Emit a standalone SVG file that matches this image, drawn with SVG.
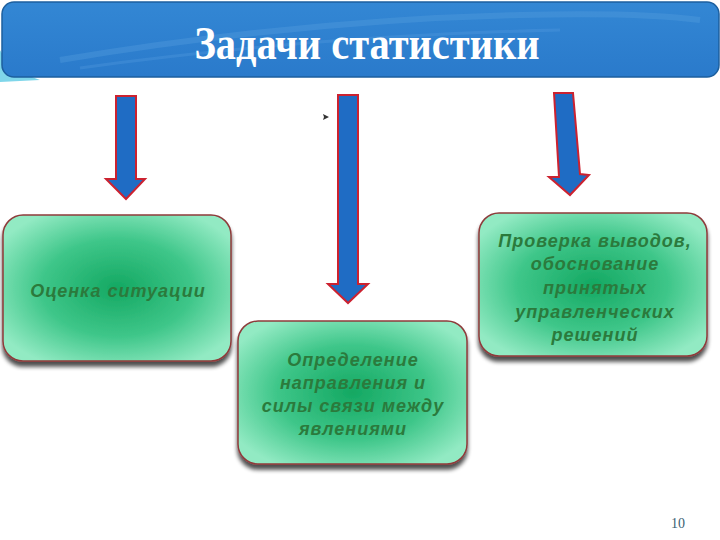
<svg xmlns="http://www.w3.org/2000/svg" width="720" height="540" viewBox="0 0 720 540">
<defs>
<radialGradient id="gf" cx="50%" cy="50%" r="60%">
<stop offset="0" stop-color="#14a862"/>
<stop offset="0.55" stop-color="#3ec689"/>
<stop offset="1" stop-color="#92eac3"/>
</radialGradient>
<linearGradient id="hdr" x1="0" y1="0" x2="0" y2="1">
<stop offset="0" stop-color="#3387d4"/>
<stop offset="1" stop-color="#2a7acb"/>
</linearGradient>
<filter id="sh" x="-10%" y="-10%" width="120%" height="125%">
<feGaussianBlur in="SourceAlpha" stdDeviation="2"/>
<feOffset dx="0" dy="5"/>
<feComponentTransfer><feFuncA type="linear" slope="0.7"/></feComponentTransfer>
<feMerge><feMergeNode/><feMergeNode in="SourceGraphic"/></feMerge>
</filter>
</defs>
<style>
.box{fill:url(#gf);stroke:#8e3b3b;stroke-width:1.5;filter:url(#sh)}
.lbl{font-family:"Liberation Sans",Arial,sans-serif;font-weight:bold;font-style:italic;font-size:18px;letter-spacing:1px;fill:#2b7a3c;text-anchor:middle}
.arr{fill:#1f6cc4;stroke:#cc2230;stroke-width:2;stroke-linejoin:miter}
</style>
<rect width="720" height="540" fill="#ffffff"/>
<path d="M0 50 Q10 70 40 80 L0 82 Z" fill="#7fd6ea"/>
<g id="header">
<rect x="2" y="2" width="717" height="75" rx="12" fill="url(#hdr)" stroke="#1d5f9e" stroke-width="1.5"/>
<path d="M60 60 Q300 20 520 15 Q640 12 700 20" fill="none" stroke="#5aa0e0" stroke-width="6" opacity="0.35"/>
<path d="M80 68 Q320 35 560 30" fill="none" stroke="#5aa0e0" stroke-width="3" opacity="0.3"/>
<text x="367" y="59" font-family="Liberation Serif,serif" font-weight="bold" font-size="46" fill="#ffffff" text-anchor="middle" textLength="345" lengthAdjust="spacingAndGlyphs">Задачи статистики</text>
</g>
<g id="connectors">
<polygon class="arr" points="116,96 136,96 136,179 145,179 126,199 106,179 116,179"/>
<polygon class="arr" points="338,95 358,95 358,284 368,284 348,303 328,284 338,284"/>
<polygon class="arr" points="554,93 573,93 580,174 589,175 570,195 549,177 559,177"/>
<polygon points="323,114 329,117 323,120 324,117" fill="#333"/>
</g>
<g id="n1">
<rect class="box" x="3" y="215" width="228" height="146" rx="20"/>
<text class="lbl" x="118" y="297">Оценка ситуации</text>
</g>
<g id="n2">
<rect class="box" x="238" y="321" width="229" height="143" rx="20"/>
<text class="lbl" x="353" y="366">Определение</text>
<text class="lbl" x="353" y="389">направления и</text>
<text class="lbl" x="353" y="412">силы связи между</text>
<text class="lbl" x="353" y="435">явлениями</text>
</g>
<g id="n3">
<rect class="box" x="479" y="213" width="228" height="143" rx="20"/>
<text class="lbl" x="595" y="247">Проверка выводов,</text>
<text class="lbl" x="595" y="270">обоснование</text>
<text class="lbl" x="595" y="294">принятых</text>
<text class="lbl" x="595" y="318">управленческих</text>
<text class="lbl" x="595" y="341">решений</text>
</g>
<text x="678" y="528" font-family="Liberation Serif,serif" font-size="14" fill="#3a5f73" text-anchor="middle">10</text>
</svg>
